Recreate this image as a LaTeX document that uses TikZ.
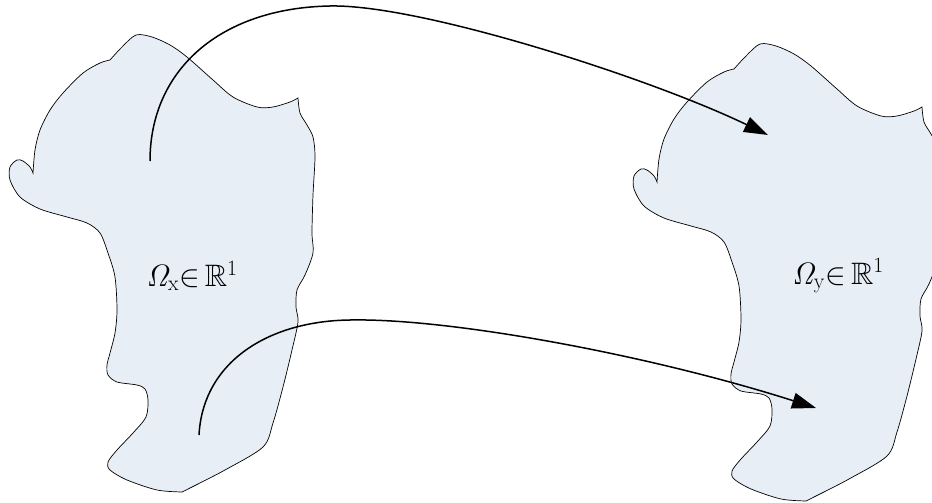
\RequirePackage{fix-cm}
\documentclass[tikz,border=0pt]{standalone}
\usepackage{amssymb}
\usetikzlibrary{arrows.meta}
\definecolor{regionfill}{RGB}{232,238,246}
\tikzset{
  region/.style={draw=black, line width=0.7pt, fill=regionfill},
  maparrow/.style={line width=1.5pt, -{Triangle[length=24pt,width=16pt]}},
  lbl/.style={font=\fontsize{31}{36}\selectfont, inner sep=0pt}
}
\newcommand{\regionpath}{%
  (110,60) -- plot[smooth] coordinates {(110,60) (122,47) (136,35) (152,37) (170,45) (187,57) (213,80) (233,97) (257,107) (273,107) (290,102) (298,98)}
  -- plot[smooth] coordinates {(298,98) (300,113) (307,125) (313,137) (315,157) (313,195) (312,233) (313,253) (305,275) (297,290) (296,307) (298,322) (292,350) (283,387) (273,423) (263,447) (225,470) (190,488) (182,492)}
  -- plot[smooth] coordinates {(182,492) (157,490) (127,480) (110,470) (108,462) (117,450) (133,433) (146,417) (148,400) (145,389) (137,385) (117,382) (108,375) (107,365) (110,353) (115,333) (117,310) (115,277) (108,253) (100,233) (87,223) (67,217) (40,209) (20,197) (10,180) (10,167) (17,160) (23,161) (30,167) (33,173)}
  -- plot[smooth] coordinates {(33,173) (35,150) (40,130) (50,110) (63,93) (83,73) (100,63) (110,60)}
  -- cycle}
\begin{document}
\begin{tikzpicture}[x=1pt,y=-1pt]
\useasboundingbox (0,0) rectangle (932,503);
\clip (0,0) rectangle (932,503);
% domains
\path[region] \regionpath;
\begin{scope}[shift={(624,9)}]
\path[region] \regionpath;
\end{scope}
% labels
\node[lbl] (ox) at (192,276) {$\mathit{\Omega}_{\mathrm{x}}{\in}\,\mathbb{R}^1$};
\node[lbl] (oy) at (838,276) {$\mathit{\Omega}_{\mathrm{y}}{\in}\,\mathbb{R}^1$};
% mapping arrows
\coordinate (s1) at (150,161);
\coordinate (m1) at (330,6);
\coordinate (e1) at (768,135);
\coordinate (s2) at (199,435);
\coordinate (m2) at (350,320);
\coordinate (e2) at (816,408);
\draw[line width=1.5pt] (s1) .. controls (150,70) and (220,8) .. (m1);
\draw[maparrow] (m1) .. controls (420,4) and (650,78) .. (e1);
\draw[line width=1.5pt] (s2) .. controls (203,362) and (268,321) .. (m2);
\draw[maparrow] (m2) .. controls (450,318) and (650,355) .. (e2);
\end{tikzpicture}
\end{document}
